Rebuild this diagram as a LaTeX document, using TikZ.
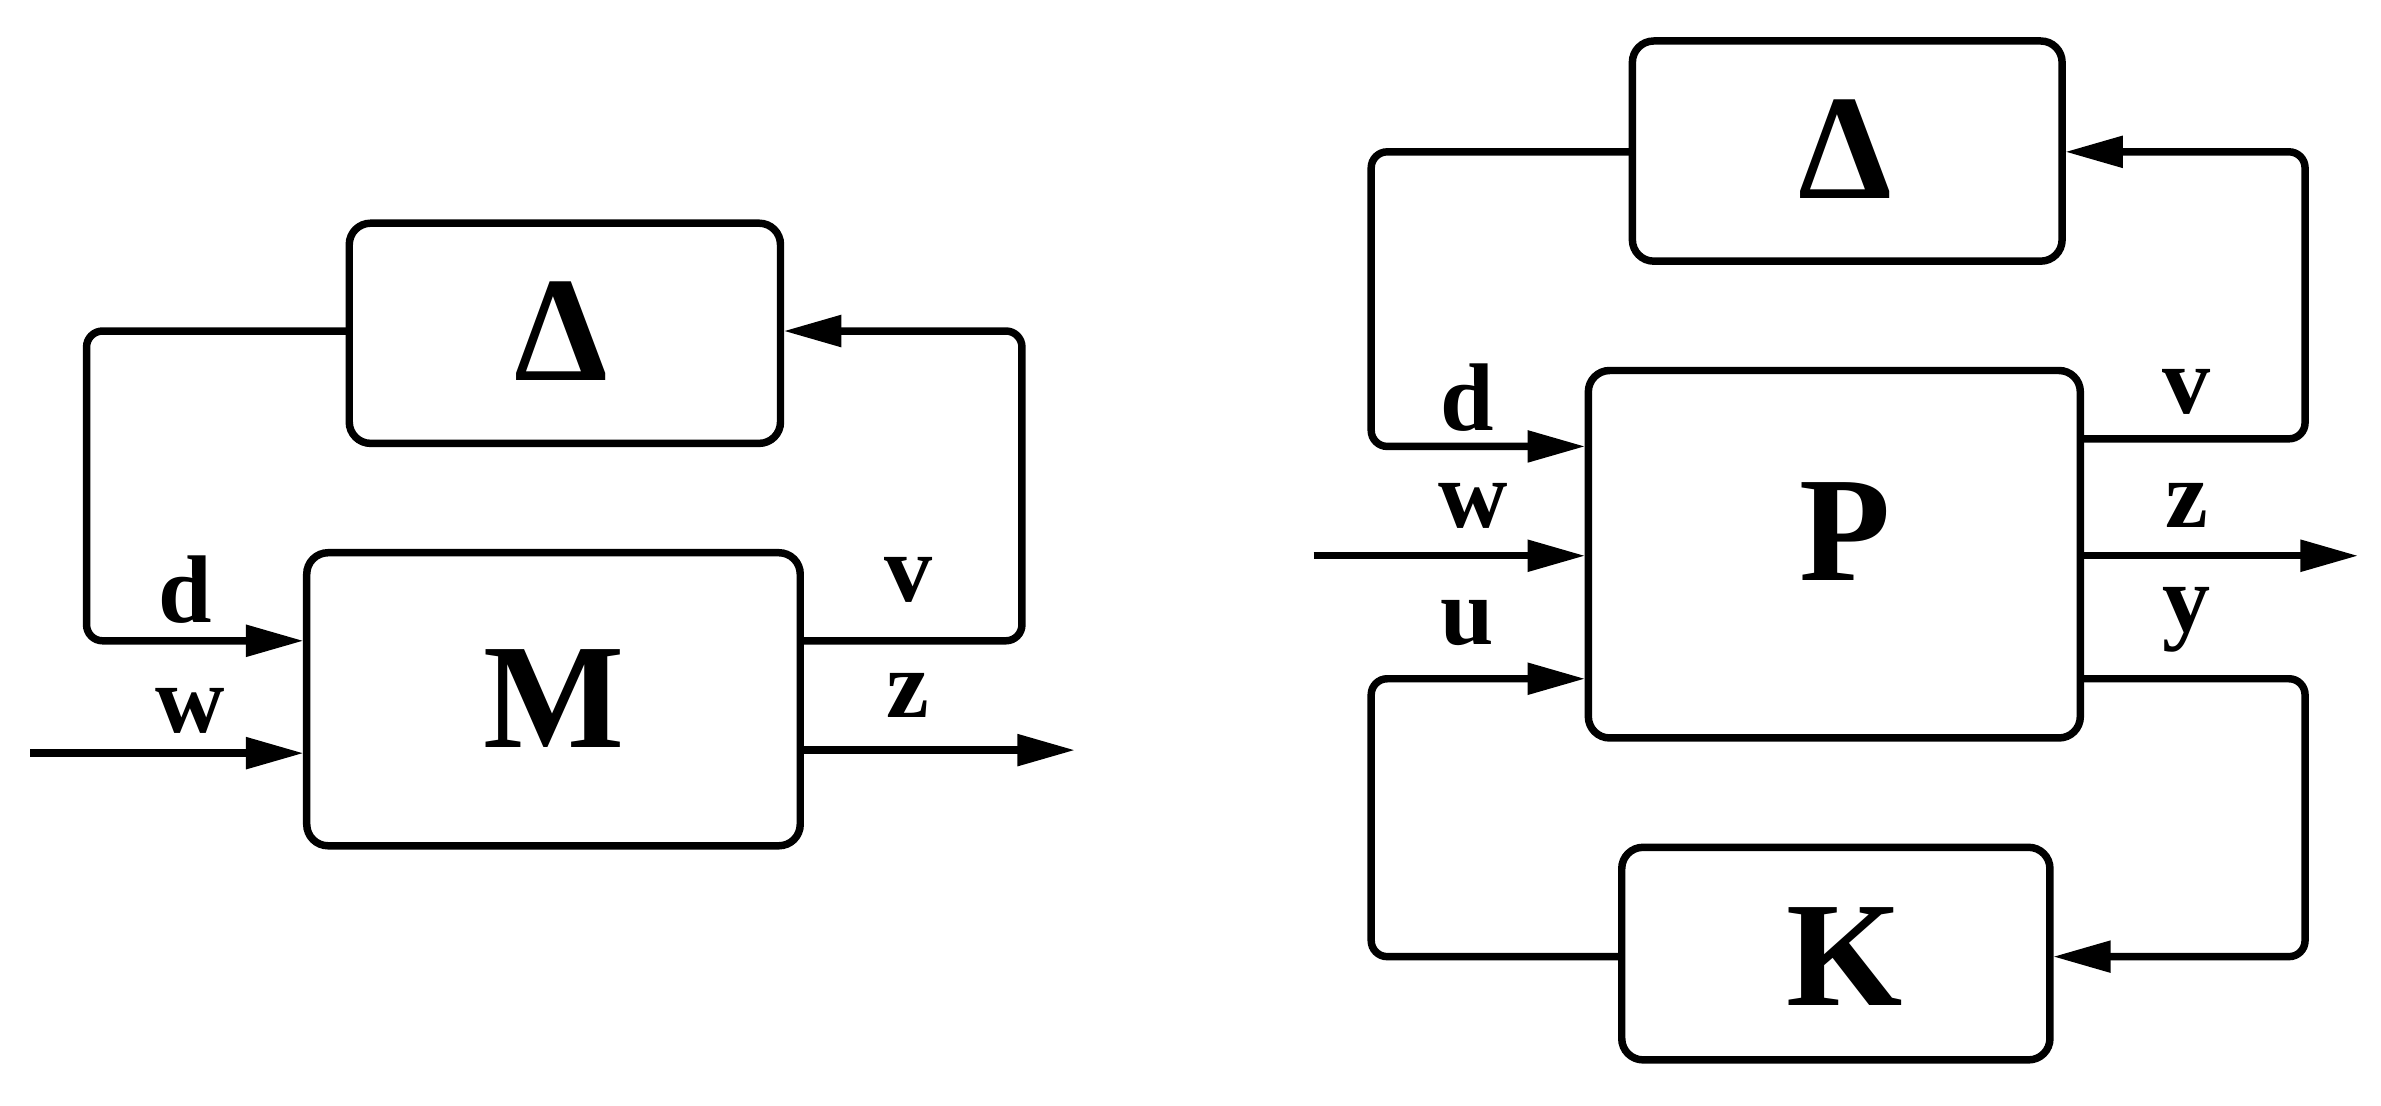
\documentclass[tikz,border=0pt]{standalone}
\usepackage{fontspec}
\setmainfont{Liberation Serif}
\usetikzlibrary{arrows.meta}
\begin{document}
\begin{tikzpicture}[x=0.01cm,y=-0.01cm,line width=1.4pt,
  blk/.style={draw,rounded corners=4pt},
  wire/.style={rounded corners=3pt},
  arr/.style={-{Triangle[length=0.38cm,width=0.2cm]}},
  lab/.style={font=\fontsize{18}{20}\selectfont\bfseries},
  big/.style={font=\fontsize{28}{30}\selectfont\bfseries}]
\useasboundingbox (0,0) rectangle (1568,728);
% left
\draw[blk] (230,147) rectangle (514,292);
\node[big] (dl) at (370,218) {Δ};
\draw[blk] (202,364) rectangle (527,557);
\node[big] (M) at (365,460) {M};
\coordinate (a1) at (230,218);
\draw[wire,arr] (a1) -- (57,218) -- (57,422) -- (200,422);
\draw[arr] (20,496) -- (200,496);
\draw[wire,arr] (527,422) -- (673,422) -- (673,218) -- (516,218);
\draw[arr] (527,494) -- (708,494);
\node[lab] at (122,388) {d};
\node[lab] at (125,468) {w};
\node[lab] at (598,382) {v};
\node[lab] at (598,458) {z};
% right
\draw[blk] (1075,27) rectangle (1358,172);
\node[big] (dr) at (1215,98) {Δ};
\draw[blk] (1046,244) rectangle (1370,486);
\node[big] (P) at (1215,350) {P};
\draw[blk] (1068,558) rectangle (1350,698);
\node[big] (K) at (1215,630) {K};
\draw[wire,arr] (1075,100) -- (903,100) -- (903,294) -- (1044,294);
\draw[arr] (865,366) -- (1044,366);
\draw[wire,arr] (1068,630) -- (903,630) -- (903,447) -- (1044,447);
\draw[wire,arr] (1370,289) -- (1518,289) -- (1518,100) -- (1360,100);
\draw[arr] (1370,366) -- (1553,366);
\draw[wire,arr] (1370,447) -- (1518,447) -- (1518,630) -- (1352,630);
\node[lab] at (966,262) {d};
\node[lab] at (970,333) {w};
\node[lab] at (966,410) {u};
\node[lab] at (1440,258) {v};
\node[lab] at (1440,333) {z};
\node[lab] at (1440,408) {y};
\end{tikzpicture}
\end{document}
